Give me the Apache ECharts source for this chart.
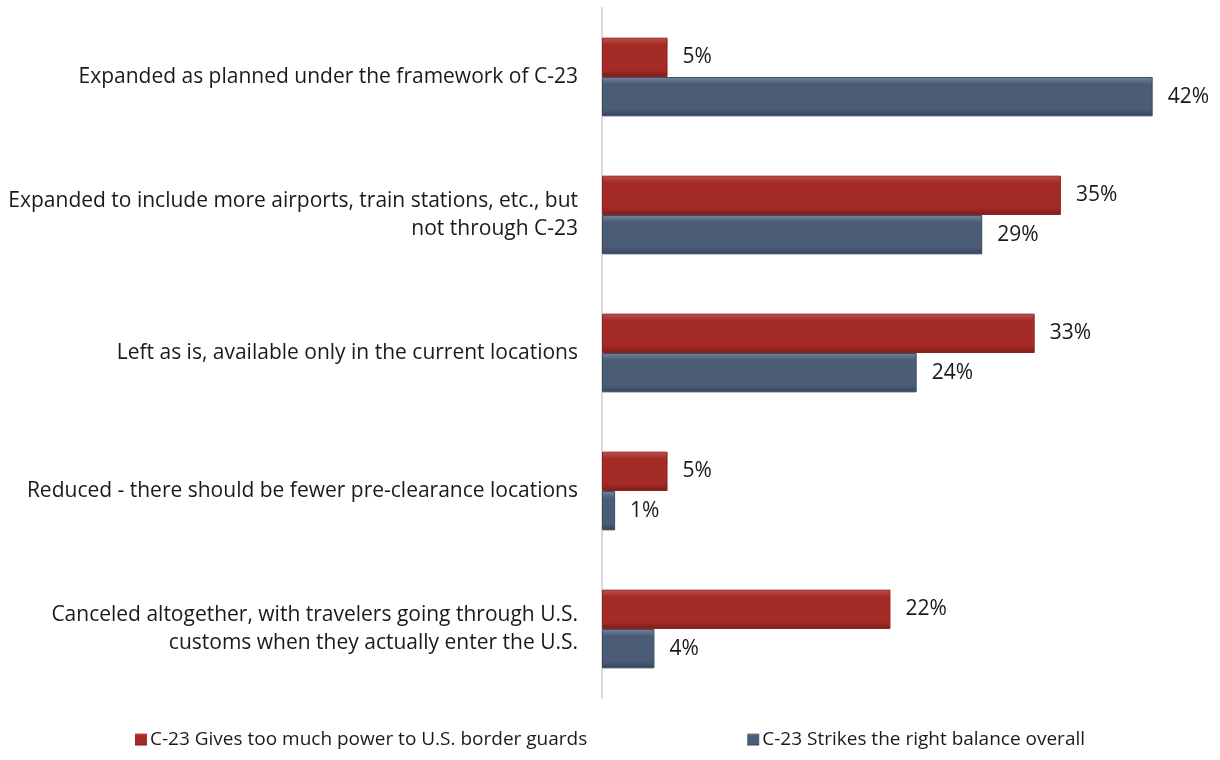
<!DOCTYPE html>
<html><head><meta charset="utf-8">
<script src="https://cdn.jsdelivr.net/npm/echarts@6/dist/echarts.min.js"></script>
<style>html,body{margin:0;padding:0;background:#fff}#c{width:1220px;height:760px}</style>
</head><body><div id="c"></div>
<script>
const categories = [
  "Expanded as planned under the framework of C-23",
  "Expanded to include more airports, train stations, etc., but\nnot through C-23",
  "Left as is, available only in the current locations",
  "Reduced - there should be fewer pre-clearance locations",
  "Canceled altogether, with travelers going through U.S.\ncustoms when they actually enter the U.S."
];
const seriesNames = ["C-23 Gives too much power to U.S. border guards", "C-23 Strikes the right balance overall"];
const tooMuchPower = [5, 35, 33, 5, 22];
const rightBalance = [42, 29, 24, 1, 4];

function bevel(light, base, dark) {
  return new echarts.graphic.LinearGradient(0, 0, 0, 1, [
    {offset: 0, color: light}, {offset: 0.18, color: base},
    {offset: 0.82, color: base}, {offset: 1, color: dark}
  ]);
}
const font = "'Open Sans', sans-serif";
const chart = echarts.init(document.getElementById('c'));
chart.setOption({
  animation: false,
  textStyle: {fontFamily: font},
  grid: {left: 602, top: 8, width: 590, height: 690, containLabel: false, outerBoundsMode: 'none'},
  xAxis: {type: 'value', min: 0, max: 45, show: false},
  yAxis: {
    type: 'category', data: categories, inverse: true,
    axisLine: {show: true, lineStyle: {color: '#d9d9d9', width: 2}},
    axisTick: {show: false},
    axisLabel: {fontSize: 21, color: '#1a1a1a', margin: 24, lineHeight: 28, align: 'right', fontFamily: font}
  },
  legend: {
    bottom: 6, left: 'center', icon: 'rect', itemWidth: 12, itemHeight: 12, itemGap: 160, itemStyle: {borderWidth: 0},
    textStyle: {fontSize: 19, color: '#1a1a1a', fontFamily: font, padding: [0, 0, 0, -2]},
    data: seriesNames
  },
  series: [
    {
      name: seriesNames[0], type: 'bar', data: tooMuchPower, barGap: '0%', barCategoryGap: '43%',
      itemStyle: {color: bevel('#c0504d', '#a42a26', '#7a1d1a'), borderColor: '#8a2420', borderWidth: 1},
      label: {show: true, position: 'right', distance: 15, formatter: '{c}%', fontSize: 21, color: '#1a1a1a', fontFamily: font}
    },
    {
      name: seriesNames[1], type: 'bar', data: rightBalance,
      itemStyle: {color: bevel('#73869e', '#4b5d76', '#34435a'), borderColor: '#3c4b61', borderWidth: 1},
      label: {show: true, position: 'right', distance: 15, formatter: '{c}%', fontSize: 21, color: '#1a1a1a', fontFamily: font}
    }
  ]
});
</script></body></html>
